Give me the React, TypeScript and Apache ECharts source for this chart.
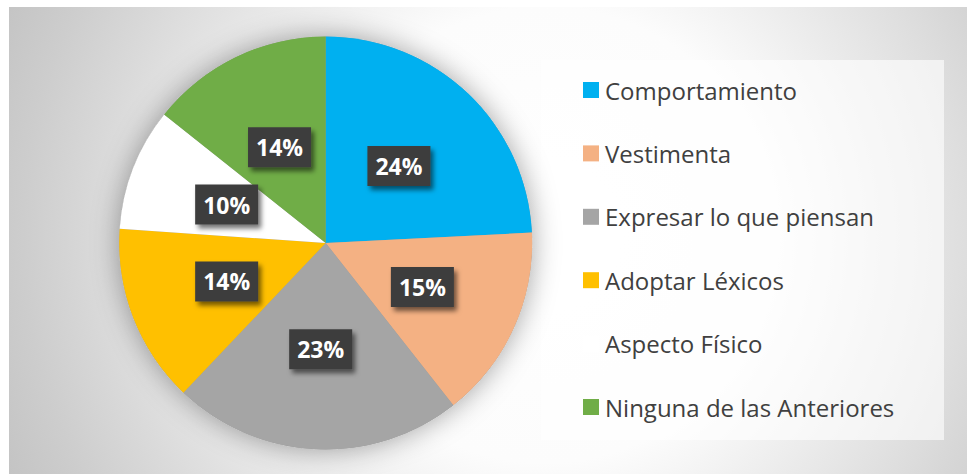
import React, { useEffect, useRef } from "react";
import * as echarts from "echarts";

const categories = [
  "Comportamiento",
  "Vestimenta",
  "Expresar lo que piensan",
  "Adoptar Léxicos",
  "Aspecto Físico",
  "Ninguna de las Anteriores",
];
const values = [24.2, 15.2, 22.7, 14.0, 9.6, 14.3];
const colors = ["#00B0F0", "#F4B183", "#A5A5A5", "#FFC000", "#FFFFFF", "#70AD47"];

function makePattern(): string {
  const c = document.createElement("canvas");
  c.width = 64;
  c.height = 40;
  const ctx = c.getContext("2d");
  if (!ctx) return "";
  ctx.fillStyle = "#3d3d3d";
  ctx.fillRect(0, 0, 64, 40);
  ctx.fillStyle = "rgba(255,255,255,0.1)";
  let row = 0;
  for (let y = 2; y < 40; y += 3) {
    const off = row % 2 === 0 ? 0 : 3;
    for (let x = 2 + off; x < 64; x += 6) {
      ctx.beginPath();
      ctx.arc(x, y, 1, 0, Math.PI * 2);
      ctx.fill();
    }
    row++;
  }
  return c.toDataURL();
}

export default function App() {
  const ref = useRef<HTMLDivElement>(null);
  useEffect(() => {
    if (!ref.current) return;
    const chart = echarts.init(ref.current, null, { renderer: "svg" });
    const pattern = makePattern();
    const center = [325.7, 243];
    const radius = 206.5;
    const data = categories.map((n, i) => ({
      name: n,
      value: values[i],
      itemStyle: { color: colors[i] },
    }));
    const labelFmt = (p: any) => Math.round(p.percent) + "%";
    const baseLabel = {
      show: true,
      position: "inside",
      formatter: labelFmt,
      fontFamily: "Open Sans",
      fontWeight: "bold",
      fontSize: 23,
      lineHeight: 24,
      color: "#ffffff",
      padding: [8, 8, 8, 8],
    };
    chart.setOption({
      animation: false,
      graphic: [
        {
          type: "rect",
          z: -10,
          shape: { x: 9, y: 7, width: 958, height: 470 },
          style: {
            fill: {
              type: "radial",
              global: true,
              x: 545,
              y: 235,
              r: 600,
              colorStops: [
                { offset: 0, color: "#ffffff" },
                { offset: 0.38, color: "#fcfcfc" },
                { offset: 0.7, color: "#dedede" },
                { offset: 0.87, color: "#cdcdcd" },
                { offset: 1, color: "#c2c2c2" },
              ],
            },
          },
        },
        {
          type: "rect",
          z: -5,
          shape: { x: 541, y: 60, width: 403, height: 380 },
          style: { fill: "rgba(255,255,255,0.62)" },
        },
      ],
      legend: {
        orient: "vertical",
        left: 583,
        top: 78,
        padding: 0,
        itemWidth: 16,
        itemHeight: 16,
        itemGap: 39.4,
        icon: "rect",
        selectedMode: false,
        data: categories.map((n, i) => ({ name: n, itemStyle: { color: colors[i] } })),
        textStyle: {
          fontFamily: "Open Sans",
          fontSize: 24,
          lineHeight: 24,
          color: "#404040",
          padding: [0, 0, 0, 1],
        },
      },
      series: [
        {
          type: "pie",
          name: "bg",
          z: 1,
          silent: true,
          center,
          radius,
          label: { show: false },
          labelLine: { show: false },
          data: [
            {
              name: "__bg",
              value: 1,
              itemStyle: {
                color: "#9a9a9a",
                shadowBlur: 28,
                shadowColor: "rgba(0,0,0,0.36)",
              },
            },
          ],
        },
        {
          type: "pie",
          name: "main",
          z: 2,
          silent: true,
          center,
          radius,
          startAngle: 90,
          clockwise: true,
          data,
          labelLine: { show: false },
          label: {
            ...baseLabel,
            backgroundColor: "#3d3d3d",
            shadowColor: "rgba(0,0,0,0.55)",
            shadowBlur: 5,
            shadowOffsetX: 3,
            shadowOffsetY: 4,
          },
        },
        {
          type: "pie",
          name: "labels",
          z: 3,
          silent: true,
          center,
          radius,
          startAngle: 90,
          clockwise: true,
          data: categories.map((n, i) => ({
            name: n,
            value: values[i],
            itemStyle: { color: "rgba(0,0,0,0)" },
          })),
          labelLine: { show: false },
          label: {
            ...baseLabel,
            backgroundColor: { image: pattern },
          },
        },
      ],
    });
    return () => chart.dispose();
  }, []);
  return (
    <div
      ref={ref}
      style={{ position: "absolute", left: 0, top: 0, width: 971, height: 474 }}
    />
  );
}
